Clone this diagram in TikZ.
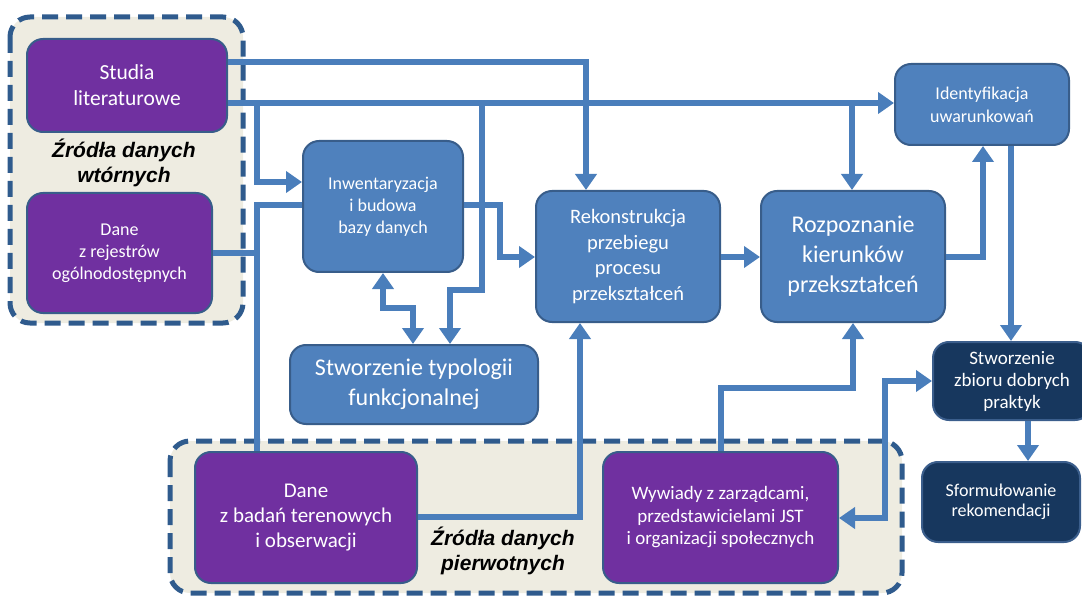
\documentclass[tikz,border=0pt]{standalone}
\usepackage{fontspec}
\setmainfont{Carlito}
\newfontfamily\labfont{Liberation Sans}
\usetikzlibrary{arrows.meta}
\definecolor{boxblue}{HTML}{4F81BD}
\definecolor{boxedge}{HTML}{385D8A}
\definecolor{purp}{HTML}{7030A0}
\definecolor{navy}{HTML}{17375E}
\definecolor{navyedge}{HTML}{3B5E8C}
\definecolor{linec}{HTML}{4A7EBB}
\definecolor{dashc}{HTML}{2F5B8D}
\definecolor{beige}{HTML}{EEECE1}
\tikzset{
  basebox/.style={rectangle, rounded corners=16pt, draw=boxedge, line width=2pt, text=white, align=center, inner sep=0pt},
  bluebox/.style={basebox, fill=boxblue},
  purpbox/.style={basebox, fill=purp},
  navybox/.style={basebox, fill=navy, draw=navyedge},
  groupbox/.style={draw=dashc, fill=beige, line width=5pt, dash pattern=on 16pt off 8pt, rounded corners=20pt},
  conn/.style={draw=linec, line width=6pt},
  arr/.style={-{Triangle[length=16pt,width=21pt]}},
  darr/.style={{Triangle[length=16pt,width=21pt]}-{Triangle[length=16pt,width=21pt]}},
  grouplabel/.style={align=center, text=black, font=\labfont\bfseries\itshape\fontsize{21}{25}\selectfont}
}
\begin{document}
\begin{tikzpicture}[x=1pt,y=-1pt]
\useasboundingbox (0,0) rectangle (1082,596);
\clip (0,0) rectangle (1082,596);
% group backgrounds
\draw[groupbox] (10,17) rectangle (243,323);
\draw[groupbox] (170,441) rectangle (902,593);
% nodes
\node[purpbox, minimum width=200, minimum height=93, font=\fontsize{21.5}{26}\selectfont] (studia) at (127,85.5) {Studia\\literaturowe};
\node[purpbox, minimum width=185, minimum height=120, font=\fontsize{18}{22}\selectfont] (rej) at (119.5,253) {Dane\\z rejestrów\\ogólnodostępnych};
\node[grouplabel] (lab1) at (124,163) {Źródła danych\\wtórnych};
\node[bluebox, minimum width=160, minimum height=131, font=\fontsize{18}{22}\selectfont] (inw) at (383,206.5) {Inwentaryzacja\\i budowa\\bazy danych};
\node[bluebox, minimum width=184, minimum height=131, font=\fontsize{20.5}{25.5}\selectfont] (rekon) at (628,256.5) {Rekonstrukcja\\przebiegu\\procesu\\przekształceń};
\node[bluebox, minimum width=184, minimum height=131, font=\fontsize{24}{30}\selectfont] (rozp) at (853,256.5) {Rozpoznanie\\kierunków\\przekształceń};
\node[bluebox, minimum width=174, minimum height=81, font=\fontsize{18}{23}\selectfont] (ident) at (982,104.5) {Identyfikacja\\uwarunkowań};
\node[bluebox, minimum width=248, minimum height=79, font=\fontsize{24}{30}\selectfont] (typ) at (414,384.5) {Stworzenie typologii\\funkcjonalnej};
\node[purpbox, minimum width=222, minimum height=131, font=\fontsize{21}{25}\selectfont] (badan) at (306,517.5) {Dane\\z badań terenowych\\i obserwacji};
\node[grouplabel] (lab2) at (503,551) {Źródła danych\\pierwotnych};
\node[purpbox, minimum width=235, minimum height=131, font=\fontsize{19}{22.5}\selectfont] (wyw) at (720.5,517.5) {Wywiady z zarządcami,\\przedstawicielami JST\\i organizacji społecznych};
\node[navybox, minimum width=158, minimum height=78, font=\fontsize{19}{22}\selectfont] (zbior) at (1012,381) {Stworzenie\\zbioru dobrych\\praktyk};
\node[navybox, minimum width=158, minimum height=80, font=\fontsize{18}{20}\selectfont] (sform) at (1001,502) {Sformułowanie\\rekomendacji};
% junction points
\coordinate (j1) at (257,103);
\coordinate (j2) at (482,103);
\coordinate (j3) at (852,103);
% connectors
\draw[conn,arr] (studia.east |- 0,62) -| (rekon.north -| 586,0);
\draw[conn,arr] (studia.east |- 0,103) -- (ident.west |- 0,103);
\draw[conn,arr] (j1) |- (inw.west |- 0,182);
\draw[conn,arr] (j2) |- (450,290) -- (typ.north -| 450,0);
\draw[conn,arr] (j3) -- (rozp.north -| 852,0);
\draw[conn] (rej.east |- 0,253) -- (257,253);
\draw[conn] (badan.north -| 257,0) |- (inw.west |- 0,205);
\draw[conn,arr] (inw.east |- 0,205) -- (500,205) |- (rekon.west |- 0,257);
\draw[conn,darr] (inw.south -| 383,0) |- (413,308) -- (typ.north -| 413,0);
\draw[conn,arr] (rekon.east |- 0,257) -- (rozp.west |- 0,257);
\draw[conn,arr] (rozp.east |- 0,257) -| (ident.south -| 983,0);
\draw[conn,arr] (ident.south -| 1011,0) -- (zbior.north -| 1011,0);
\draw[conn,arr] (zbior.south -| 1028,0) -- (sform.north -| 1028,0);
\draw[conn,arr] (badan.east |- 0,517) -| (rekon.south -| 580,0);
\draw[conn,arr] (wyw.north -| 721,0) |- (853,388) -- (rozp.south -| 853,0);
\draw[conn,darr] (zbior.west |- 0,381) -| (885,518) -- (wyw.east |- 0,518);
\end{tikzpicture}
\end{document}
